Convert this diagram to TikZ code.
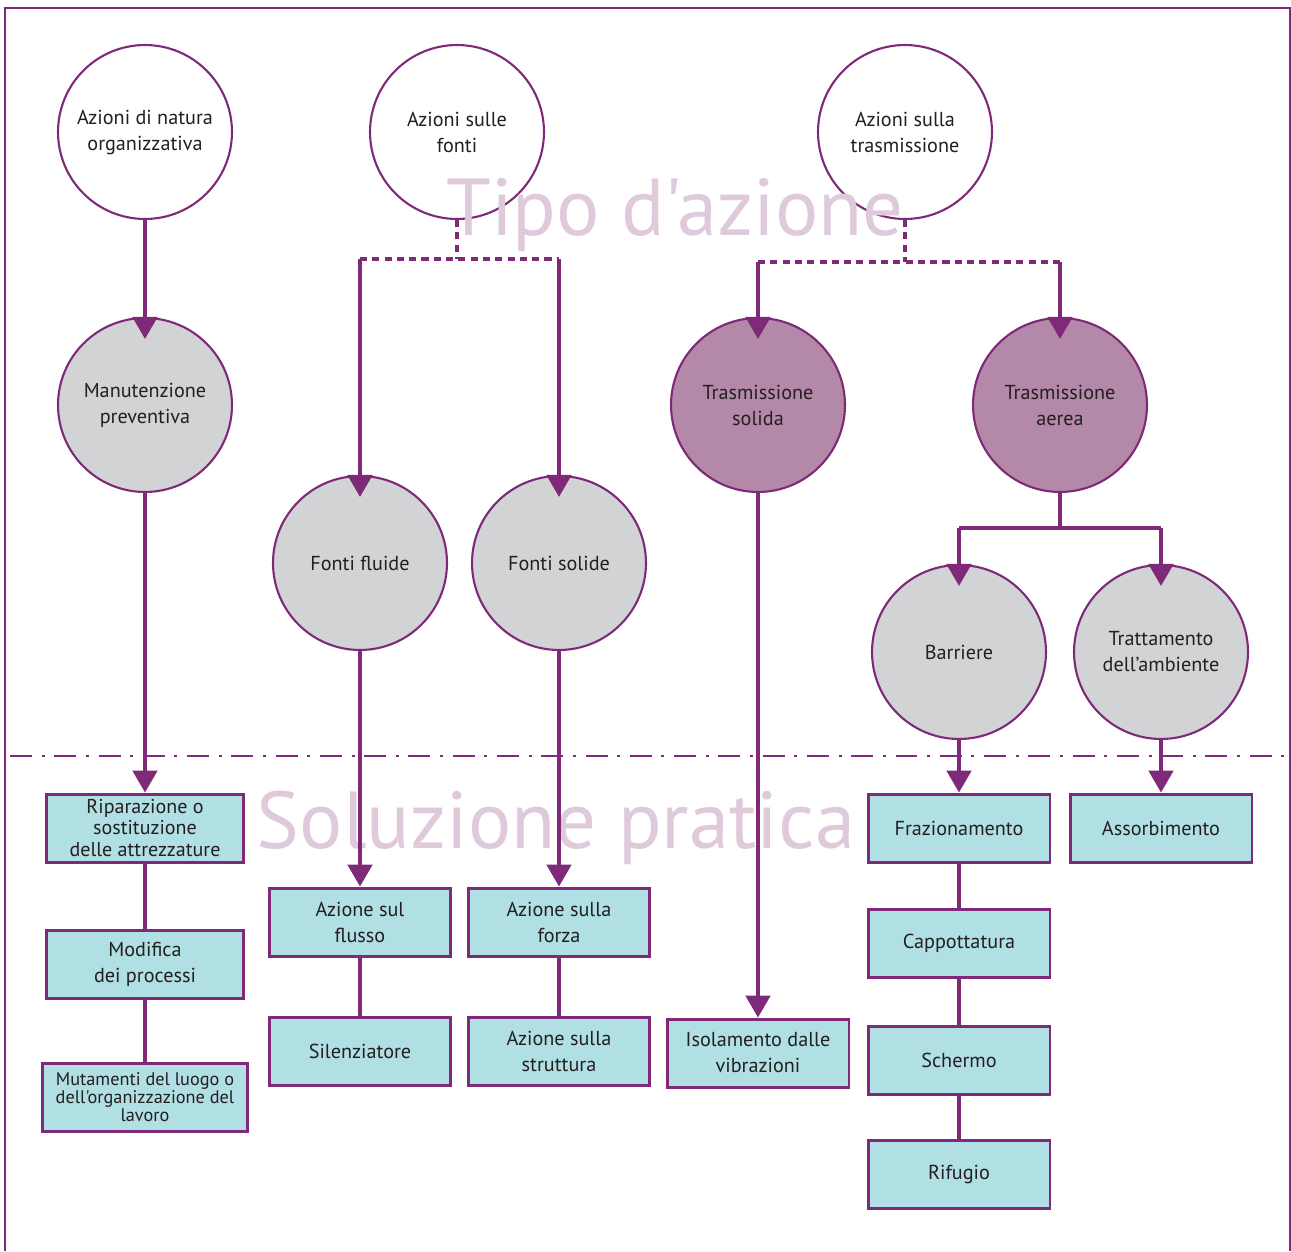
\documentclass[tikz,border=0pt]{standalone}
\usepackage{fontspec}
\setmainfont{PT Sans}
\newfontfamily\plainfont{PT Sans}[Ligatures=TeXOff]
\usetikzlibrary{arrows.meta, positioning}
\definecolor{frame}{RGB}{127, 42, 121}
\definecolor{ink}{RGB}{35, 31, 32}
\definecolor{circgrey}{RGB}{209, 211, 212}
\definecolor{circmauve}{RGB}{179, 136, 168}
\definecolor{boxcyan}{RGB}{176, 223, 228}
\definecolor{wmauve}{RGB}{222, 202, 218}

\begin{document}
\begin{tikzpicture}[
    x=0.02cm, y=-0.02cm,
    lbl/.style    = {font=\fontsize{11.5}{14.8}\selectfont\color{ink}, align=center},
    circ/.style   = {lbl, circle, draw=frame, line width=1.2pt, minimum size=3.48cm, inner sep=0pt},
    topc/.style   = {circ, fill=white},
    greyc/.style  = {circ, fill=circgrey},
    mauvec/.style = {circ, fill=circmauve},
    box/.style    = {lbl, rectangle, draw=frame, fill=boxcyan, line width=1.7pt, minimum width=3.64cm, minimum height=1.36cm, inner sep=0pt},
    wmark/.style  = {font=\plainfont\fontsize{46}{52}\selectfont\color{wmauve}, inner sep=0pt, anchor=base},
    link/.style   = {draw=frame, line width=1.8pt},
    dlink/.style  = {link, dash pattern=on 4pt off 3pt},
    arr/.style    = {link, -{Triangle[length=12.5pt, width=14pt]}},
    arrin/.style  = {arr, shorten >=-12.5pt},
  ]
    \useasboundingbox (0,0) rectangle (1291,1251);
    \draw[frame, line width=1.5pt] (5,1251) -- (5,8) -- (1290,8) -- (1290,1251);

    % ── Tipo d'azione ──
    \node[topc] (orga)  at (145,132)  {Azioni di natura\\organizzativa};
    \node[topc] (fonti) at (457,132)  {Azioni sulle\\fonti};
    \node[topc] (trasm) at (905,132)  {Azioni sulla\\trasmissione};

    \node[greyc]  (manut) at (145,405)  {Manutenzione\\preventiva};
    \node[mauvec] (tsol)  at (758,405)  {Trasmissione\\solida};
    \node[mauvec] (taer)  at (1060,405) {Trasmissione\\aerea};
    \node[greyc]  (ffl)   at (360,563)  {Fonti fluide};
    \node[greyc]  (fso)   at (559,563)  {Fonti solide};
    \node[greyc]  (barr)  at (959,652)  {Barriere};
    \node[greyc]  (tratt) at (1161,652) {Trattamento\\dell’ambiente};

    % ── Soluzione pratica ──
    \node[box, minimum width=3.94cm, font=\fontsize{11.4}{12}\selectfont\color{ink}] (ripa) at (145,828)
      {Riparazione o\\sostituzione\\delle attrezzature};
    \node[box, minimum width=3.94cm] (modi) at (145,964)  {Modifica\\dei processi};
    \node[box, minimum width=4.1cm, font=\plainfont\fontsize{10.4}{10.3}\selectfont\color{ink}] (muta) at (145,1097)
      {Mutamenti del luogo o\\dell'organizzazione del\\lavoro};
    \node[box] (flus) at (360,922)  {Azione sul\\flusso};
    \node[box] (sile) at (360,1051) {Silenziatore};
    \node[box] (forz) at (559,922)  {Azione sulla\\forza};
    \node[box] (stru) at (559,1051) {Azione sulla\\struttura};
    \node[box] (isol) at (758,1053) {Isolamento dalle\\vibrazioni};
    \node[box] (fraz) at (959,828)  {Frazionamento};
    \node[box] (capp) at (959,943)  {Cappottatura};
    \node[box] (sche) at (959,1060) {Schermo};
    \node[box] (rifu) at (959,1174) {Rifugio};
    \node[box] (asso) at (1161,828) {Assorbimento};

    \node[wmark] (wtipo) at (675,235) {Tipo d'azione};
    \node[wmark] (wsol)  at (556,848) {Soluzione pratica};

    \draw[frame, line width=1.3pt, dash pattern=on 12.5pt off 5.5pt on 1.7pt off 5.5pt] (10,756) -- (1290,756);

    % ── Connectors ──
    \coordinate (fj) at (457,259);
    \coordinate (tj) at (905,262);
    \coordinate (aj) at (1060,528);

    \draw[arrin] (orga.south) -- (manut.north);
    \draw[arr]   (manut.south) -- (ripa.north);
    \draw[link]  (ripa.south) -- (modi.north);
    \draw[link]  (modi.south) -- (muta.north);

    \draw[dlink] (fonti.south) -- (fj);
    \draw[dlink] (fj -| ffl) -- (fj -| fso);
    \draw[arrin] (fj -| ffl) -- (ffl.north);
    \draw[arrin] (fj -| fso) -- (fso.north);
    \draw[arr]   (ffl.south) -- (flus.north);
    \draw[link]  (flus.south) -- (sile.north);
    \draw[arr]   (fso.south) -- (forz.north);
    \draw[link]  (forz.south) -- (stru.north);

    \draw[dlink] (trasm.south) -- (tj);
    \draw[dlink] (tj -| tsol) -- (tj -| taer);
    \draw[arrin] (tj -| tsol) -- (tsol.north);
    \draw[arrin] (tj -| taer) -- (taer.north);
    \draw[arr]   (tsol.south) -- (isol.north);

    \draw[link]  (taer.south) -- (aj);
    \draw[link]  (aj -| barr) -- (aj -| tratt);
    \draw[arrin] (aj -| barr) -- (barr.north);
    \draw[arrin] (aj -| tratt) -- (tratt.north);
    \draw[arr]   (barr.south) -- (fraz.north);
    \draw[link]  (fraz.south) -- (capp.north);
    \draw[link]  (capp.south) -- (sche.north);
    \draw[link]  (sche.south) -- (rifu.north);
    \draw[arr]   (tratt.south) -- (asso.north);

  \end{tikzpicture}
\end{document}
